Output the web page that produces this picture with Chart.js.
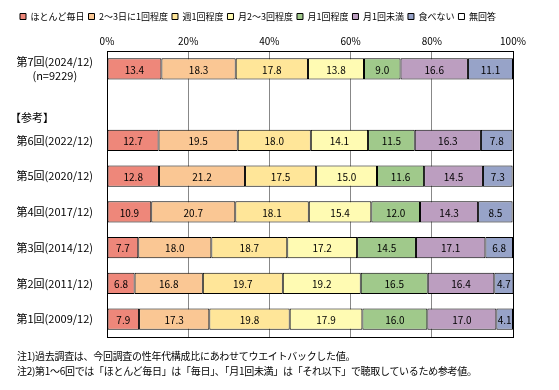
<!DOCTYPE html>
<html>
<head>
<meta charset="utf-8">
<script src="https://cdn.jsdelivr.net/npm/chart.js@4.4.1/dist/chart.umd.min.js"></script>
<style>
  html, body { margin: 0; padding: 0; background: #fff; }
  #wrap { position: relative; width: 559px; height: 390px; }
  #notes { position: absolute; left: 17px; top: 348px; font: 10px "Noto Sans CJK JP", sans-serif; line-height: 15px; color: #000; letter-spacing: -0.3px; }
</style>
</head>
<body>
<div id="wrap">
  <canvas id="surveyChart" width="559" height="390"></canvas>
  <div id="notes">
    注1)過去調査は、今回調査の性年代構成比にあわせてウエイトバックした値。<br>
    注2)第1～6回では「ほとんど毎日」は「毎日」、「月1回未満」は「それ以下」で聴取しているため参考値。
  </div>
</div>
<script>
const rounds = [
  ['第7回(2024/12)', '(n=9229)'],
  '',
  '第6回(2022/12)',
  '第5回(2020/12)',
  '第4回(2017/12)',
  '第3回(2014/12)',
  '第2回(2011/12)',
  '第1回(2009/12)'
];

const seriesNames = ['ほとんど毎日', '2～3日に1回程度', '週1回程度', '月2～3回程度', '月1回程度', '月1回未満', '食べない', '無回答'];
const seriesColors = ['#EE877A', '#FAC794', '#FFE699', '#FFFBB3', '#A0C98B', '#BC9EC0', '#97A3C8', '#FFFFFF'];

// one array per answer, in the order of rounds (null = empty row)
const almostDaily   = [13.4, null, 12.7, 12.8, 10.9, 7.7, 6.8, 7.9];
const every2to3Days = [18.3, null, 19.5, 21.2, 20.7, 18.0, 16.8, 17.3];
const weekly        = [17.8, null, 18.0, 17.5, 18.1, 18.7, 19.7, 19.8];
const monthly2to3   = [13.8, null, 14.1, 15.0, 15.4, 17.2, 19.2, 17.9];
const monthly1      = [9.0, null, 11.5, 11.6, 12.0, 14.5, 16.5, 16.0];
const lessThanMonth = [16.6, null, 16.3, 14.5, 14.3, 17.1, 16.4, 17.0];
const neverEat      = [11.1, null, 7.8, 7.3, 8.5, 6.8, 4.7, 4.1];
const noAnswer      = [0, null, 0, 0, 0, 0, 0, 0];

const xTicks = [0, 20, 40, 60, 80, 100];

const allSeries = [almostDaily, every2to3Days, weekly, monthly2to3, monthly1, lessThanMonth, neverEat, noAnswer];
const FONT = '"Noto Sans CJK JP", sans-serif';

const datasets = allSeries.map((data, i) => ({
  label: seriesNames[i],
  data: data,
  backgroundColor: seriesColors[i],
  borderColor: '#000',
  borderWidth: 1,
  borderSkipped: false,
  categoryPercentage: 1,
  barPercentage: 0.59
}));

const extrasPlugin = {
  id: 'extras',
  afterDatasetsDraw(chart) {
    const ctx = chart.ctx;
    const area = chart.chartArea;
    ctx.save();
    // value labels inside bars
    ctx.font = '10px ' + FONT;
    ctx.fillStyle = '#000';
    ctx.textAlign = 'center';
    ctx.textBaseline = 'middle';
    chart.data.datasets.forEach((ds, di) => {
      const meta = chart.getDatasetMeta(di);
      meta.data.forEach((bar, i) => {
        const v = ds.data[i];
        if (!v) return;
        const left = Math.min(bar.x, bar.base);
        const right = Math.max(bar.x, bar.base);
        ctx.fillText(v.toFixed(1), (left + right) / 2, bar.y + 1);
      });
    });
    // frame
    ctx.strokeStyle = '#000';
    ctx.lineWidth = 1;
    ctx.strokeRect(Math.round(area.left) + 0.5, Math.round(area.top) + 0.5,
      Math.round(area.right - area.left), Math.round(area.bottom - area.top));
    // 【参考】 heading
    const yScale = chart.scales.y;
    const y1 = yScale.getPixelForValue(1);
    const y2 = yScale.getPixelForValue(2);
    ctx.font = '11px ' + FONT;
    ctx.textAlign = 'left';
    ctx.fillText('【参考】', 10, y1 + (y2 - y1) * 0.37);
    ctx.restore();
  }
};

new Chart(document.getElementById('surveyChart'), {
  type: 'bar',
  data: { labels: rounds, datasets },
  plugins: [extrasPlugin],
  options: {
    indexAxis: 'y',
    responsive: false,
    animation: false,
    layout: { padding: { left: 16, right: 46, top: 8, bottom: 53 } },
    scales: {
      x: {
        position: 'top',
        stacked: true,
        min: 0,
        max: 100,
        afterBuildTicks: scale => { scale.ticks = xTicks.map(v => ({ value: v })); },
        ticks: {
          color: '#000',
          font: { family: FONT, size: 10 },
          padding: 4,
          callback: v => v + '%'
        },
        grid: {
          color: ctx => (ctx.tick && (ctx.tick.value === 0 || ctx.tick.value === 100)) ? '#000' : '#888',
          drawTicks: false
        },
        border: { color: '#000' }
      },
      y: {
        stacked: true,
        afterFit: scale => { scale.width = 91; },
        ticks: {
          color: '#000',
          font: { family: FONT, size: 11 },
          crossAlign: 'center',
          padding: 6
        },
        grid: { display: false },
        border: { color: '#000' }
      }
    },
    plugins: {
      legend: {
        position: 'top',
        align: 'start',
        labels: {
          color: '#000',
          font: { family: FONT, size: 9 },
          boxWidth: 6,
          boxHeight: 6,
          padding: 4,
          useBorderRadius: false
        }
      },
      tooltip: { enabled: false }
    }
  }
});
</script>
</body>
</html>
